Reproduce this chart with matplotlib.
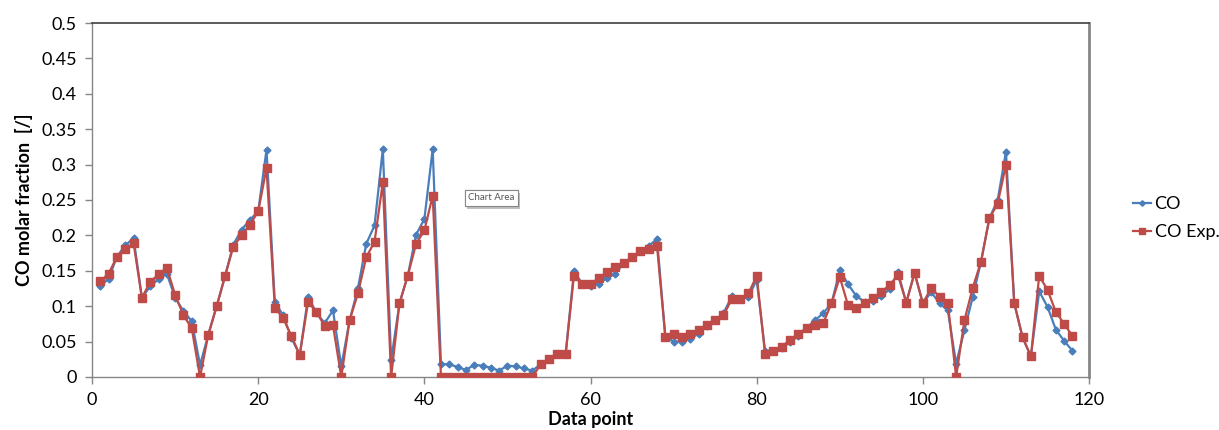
import matplotlib
matplotlib.use("Agg")
import matplotlib.pyplot as plt
import matplotlib.patheffects as pe

# CO molar fraction per data point: model vs experiment
data_point = list(range(1, 119))

co = [
    0.128, 0.139, 0.170, 0.186, 0.196, 0.112, 0.128, 0.138, 0.146, 0.112,
    0.093, 0.079, 0.017, 0.060, 0.100, 0.142, 0.187, 0.208, 0.222, 0.234,
    0.321, 0.106, 0.087, 0.055, 0.031, 0.113, 0.091, 0.076, 0.094, 0.015,
    0.080, 0.125, 0.188, 0.214, 0.322, 0.024, 0.104, 0.143, 0.201, 0.223,
    0.322, 0.018, 0.018, 0.014, 0.010, 0.017, 0.016, 0.013, 0.009, 0.016,
    0.015, 0.012, 0.009, 0.018, 0.026, 0.032, 0.032, 0.149, 0.132, 0.128,
    0.132, 0.140, 0.146, 0.161, 0.169, 0.178, 0.185, 0.195, 0.057, 0.050,
    0.050, 0.054, 0.061, 0.072, 0.080, 0.090, 0.114, 0.110, 0.113, 0.137,
    0.037, 0.037, 0.041, 0.049, 0.058, 0.069, 0.080, 0.090, 0.104, 0.151,
    0.131, 0.114, 0.106, 0.108, 0.114, 0.124, 0.148, 0.105, 0.147, 0.104,
    0.120, 0.104, 0.094, 0.019, 0.066, 0.113, 0.163, 0.224, 0.250, 0.318,
    0.104, 0.056, 0.029, 0.121, 0.099, 0.067, 0.051, 0.037,
]

co_exp = [
    0.135, 0.146, 0.170, 0.181, 0.189, 0.112, 0.134, 0.145, 0.154, 0.116,
    0.087, 0.069, 0.000, 0.060, 0.100, 0.142, 0.184, 0.200, 0.215, 0.234,
    0.295, 0.098, 0.083, 0.058, 0.031, 0.106, 0.092, 0.072, 0.073, 0.000,
    0.080, 0.118, 0.169, 0.191, 0.275, 0.000, 0.104, 0.143, 0.188, 0.207,
    0.256, 0.000, 0.000, 0.000, 0.000, 0.000, 0.000, 0.000, 0.000, 0.000,
    0.000, 0.000, 0.000, 0.018, 0.026, 0.032, 0.032, 0.143, 0.131, 0.131,
    0.140, 0.148, 0.155, 0.161, 0.169, 0.178, 0.181, 0.185, 0.057, 0.061,
    0.056, 0.061, 0.067, 0.074, 0.080, 0.087, 0.110, 0.110, 0.118, 0.143,
    0.033, 0.037, 0.043, 0.052, 0.061, 0.069, 0.073, 0.076, 0.104, 0.141,
    0.101, 0.097, 0.105, 0.111, 0.120, 0.130, 0.144, 0.105, 0.147, 0.104,
    0.126, 0.113, 0.104, 0.000, 0.080, 0.126, 0.163, 0.224, 0.245, 0.300,
    0.104, 0.056, 0.029, 0.143, 0.123, 0.092, 0.075, 0.058,
]

blue = "#4A7EBB"
red = "#BE4B48"
axis_grey = "#868686"

plt.rcParams["font.family"] = ["Lato", "DejaVu Sans"]

fig = plt.figure(figsize=(12.19, 4.30), dpi=100)
ax = fig.add_axes([0.0755, 0.1233, 0.8179, 0.8232])

ax.plot(data_point, co, color=blue, lw=1.6, marker="D", ms=3.5,
        mfc=blue, mec=blue, label="CO", zorder=3)
ax.plot(data_point, co_exp, color=red, lw=1.6, marker="s", ms=5.5,
        mfc=red, mec=red, label="CO Exp.", zorder=4)

ax.set_xlim(0, 120)
ax.set_ylim(0, 0.5)
ax.set_xticks(range(0, 121, 20))
ax.set_yticks([i * 0.05 for i in range(11)])
ax.set_yticklabels(["0", "0.05", "0.1", "0.15", "0.2", "0.25", "0.3",
                    "0.35", "0.4", "0.45", "0.5"])

for side in ("left", "bottom", "right"):
    ax.spines[side].set_color(axis_grey)
    ax.spines[side].set_linewidth(1.0)
ax.spines["right"].set_linewidth(2.0)
ax.spines["top"].set_color("#404040")
ax.spines["top"].set_linewidth(1.2)

ax.tick_params(axis="both", direction="out", length=5, width=1,
               color=axis_grey, labelsize=13, pad=6)

ax.set_xlabel("Data point", fontsize=13, fontweight="bold", labelpad=2)
ax.set_ylabel("CO molar fraction  [/]", fontsize=13, fontweight="bold",
              labelpad=6)

leg = ax.legend(loc="center left", bbox_to_anchor=(1.044, 0.449),
                frameon=False, fontsize=13, handlelength=1.0,
                labelspacing=0.65, handletextpad=0.2, borderaxespad=0,
                borderpad=0, markerscale=0.8)

tip = ax.text(0.377, 0.506, "Chart Area", transform=ax.transAxes,
              fontsize=7, color="#555555", ha="left", va="center",
              bbox=dict(boxstyle="square,pad=0.35", fc="white",
                        ec="#888888", lw=0.8))
tip.get_bbox_patch().set_path_effects(
    [pe.withSimplePatchShadow(offset=(2, -2), shadow_rgbFace="#999999",
                              alpha=0.6), pe.Normal()])

fig.savefig("out.png", dpi=100)
